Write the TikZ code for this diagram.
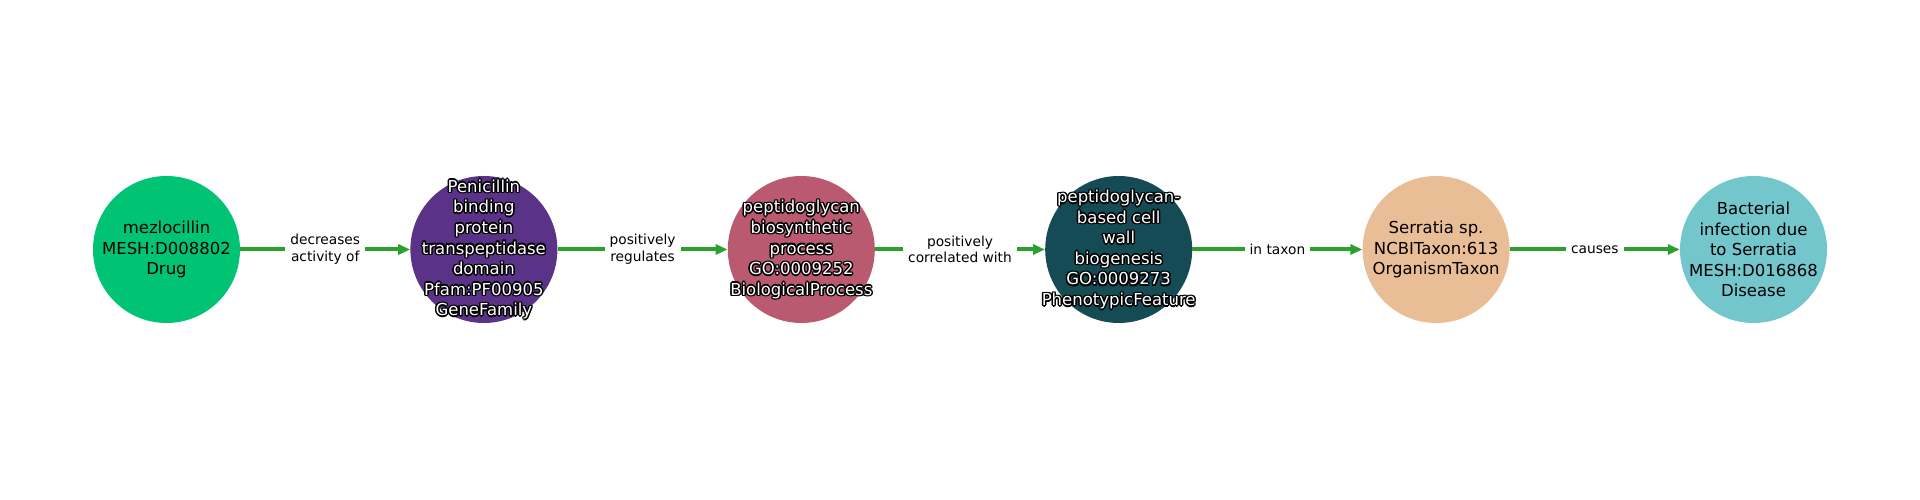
\documentclass[tikz,border=0pt]{standalone}
\usepackage{fontspec}
\setmainfont{DejaVu Sans}
\usetikzlibrary{arrows.meta}
\definecolor{cA}{RGB}{0,196,115}
\definecolor{cB}{RGB}{90,50,135}
\definecolor{cC}{RGB}{185,90,112}
\definecolor{cD}{RGB}{20,75,85}
\definecolor{cE}{RGB}{233,190,150}
\definecolor{cF}{RGB}{114,198,204}
\definecolor{eg}{RGB}{44,160,44}
\newcommand\olay[3]{\rlap{\kern#1\raisebox{#2}{\textcolor{black}{#3}}}}
\newcommand\outl[1]{\olay{-1.5pt}{0pt}{#1}\olay{1.5pt}{0pt}{#1}\olay{0pt}{1.5pt}{#1}\olay{0pt}{-1.5pt}{#1}\olay{-1.06pt}{1.06pt}{#1}\olay{1.06pt}{1.06pt}{#1}\olay{-1.06pt}{-1.06pt}{#1}\olay{1.06pt}{-1.06pt}{#1}\textcolor{white}{#1}}
\tikzset{
  ent/.style={circle, minimum size=147pt, inner sep=0pt, draw=none},
  etxt/.style={inner sep=0pt, align=center, font=\fontsize{16.5}{20.6}\selectfont},
  edge/.style={draw=eg, line width=4pt, -{Triangle[length=12pt,width=10pt]}},
  elab/.style={fill=white, inner xsep=5pt, inner ysep=3pt, align=center, text=black,
    font=\fontsize{13.75}{16.7}\selectfont}
}
\begin{document}
\begin{tikzpicture}[x=1pt,y=1pt]
\useasboundingbox (0,0) rectangle (1920,500);
\node[ent, fill=cA] (n1) at (166.5,250.5) {};
\node[ent, fill=cB] (n2) at (483.9,250.5) {};
\node[ent, fill=cC] (n3) at (801.3,250.5) {};
\node[ent, fill=cD] (n4) at (1118.7,250.5) {};
\node[ent, fill=cE] (n5) at (1436.1,250.5) {};
\node[ent, fill=cF] (n6) at (1753.5,250.5) {};
\node[etxt] (t1) at (n1) {mezlocillin\\MESH:D008802\\Drug};
\node[etxt] (t2) at (n2) {\outl{Penicillin}\\\outl{binding}\\\outl{protein}\\\outl{transpeptidase}\\\outl{domain}\\\outl{Pfam:PF00905}\\\outl{GeneFamily}};
\node[etxt] (t3) at (n3) {\outl{peptidoglycan}\\\outl{biosynthetic}\\\outl{process}\\\outl{GO:0009252}\\\outl{BiologicalProcess}};
\node[etxt] (t4) at (n4) {\outl{peptidoglycan-}\\\outl{based cell}\\\outl{wall}\\\outl{biogenesis}\\\outl{GO:0009273}\\\outl{PhenotypicFeature}};
\node[etxt] (t5) at (n5) {Serratia sp.\\NCBITaxon:613\\OrganismTaxon};
\node[etxt] (t6) at (n6) {Bacterial\\infection due\\to Serratia\\MESH:D016868\\Disease};
\draw[edge] (n1) -- node[elab] (l1) {decreases\\activity of} (n2);
\draw[edge] (n2) -- node[elab] (l2) {positively\\regulates} (n3);
\draw[edge] (n3) -- node[elab] (l3) {positively\\correlated with} (n4);
\draw[edge] (n4) -- node[elab] (l4) {in taxon} (n5);
\draw[edge] (n5) -- node[elab] (l5) {causes} (n6);
\end{tikzpicture}
\end{document}
